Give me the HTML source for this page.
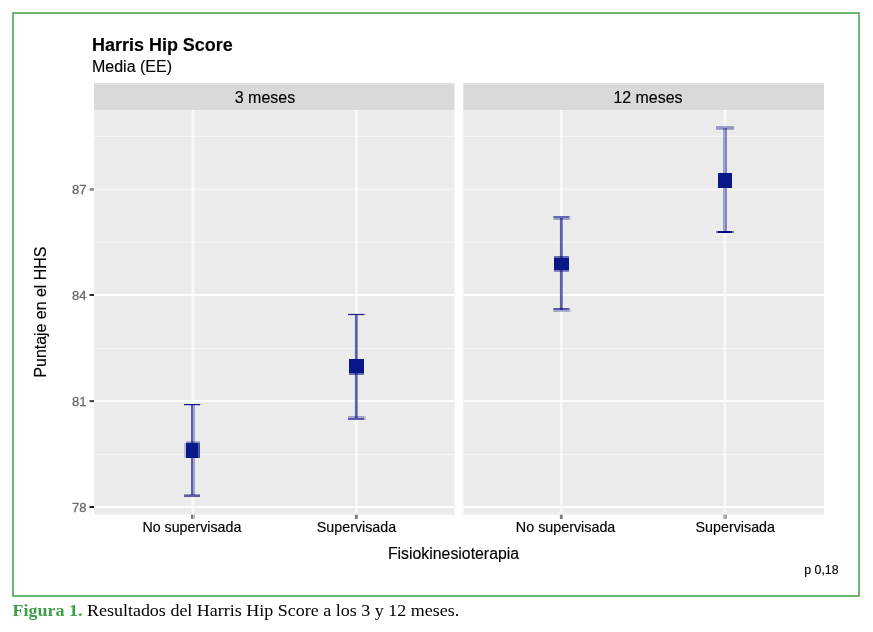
<!DOCTYPE html>
<html lang="es">
<head>
<meta charset="utf-8">
<title>Figura 1. Harris Hip Score</title>
<style>
  html, body { margin: 0; padding: 0; background: #ffffff; }
  body { width: 873px; height: 632px; overflow: hidden; position: relative; }
  svg { position: absolute; left: 0; top: 0; display: block; }
  text { font-family: "Liberation Sans", sans-serif; fill: #000; }
  .sans text { stroke: #000; stroke-width: 0.15px; }
  .serif { font-family: "Liberation Serif", serif; }
</style>
</head>
<body>
<svg width="873" height="632" viewBox="0 0 873 632">
  <rect x="0" y="0" width="873" height="632" fill="#ffffff"/>
  <!-- figure frame -->
  <rect x="13" y="13" width="846" height="583" fill="none" stroke="#6cb871" stroke-width="2"/>

  <!-- strips -->
  <rect x="94" y="83" width="360.5" height="27" fill="#d9d9d9"/>
  <rect x="463.3" y="83" width="360.7" height="27" fill="#d9d9d9"/>
  <rect x="94" y="83" width="360.5" height="2" fill="#e0e0e0"/>
  <rect x="463.3" y="83" width="360.7" height="2" fill="#e0e0e0"/>

  <!-- panels -->
  <rect x="94" y="110" width="360.5" height="404.7" fill="#ebebeb"/>
  <rect x="463.3" y="110" width="360.7" height="404.7" fill="#ebebeb"/>

  <rect x="94" y="513.2" width="360.5" height="1.5" fill="#f0f0f0"/>
  <rect x="463.3" y="513.2" width="360.7" height="1.5" fill="#f0f0f0"/>

  <!-- gridlines -->
  <g fill="#ffffff">
    <!-- minor horizontal -->
    <g fill-opacity="0.5">
      <rect x="94" y="135.8" width="360.5" height="1.2"/><rect x="463.3" y="135.8" width="360.7" height="1.2"/>
      <rect x="94" y="241.8" width="360.5" height="1.2"/><rect x="463.3" y="241.8" width="360.7" height="1.2"/>
      <rect x="94" y="347.9" width="360.5" height="1.2"/><rect x="463.3" y="347.9" width="360.7" height="1.2"/>
      <rect x="94" y="453.9" width="360.5" height="1.2"/><rect x="463.3" y="453.9" width="360.7" height="1.2"/>
    </g>
    <!-- major vertical -->
    <g fill-opacity="0.66">
      <rect x="191.5" y="110" width="2.9" height="404.7"/>
      <rect x="354.8" y="110" width="2.9" height="404.7"/>
      <rect x="559.8" y="110" width="2.9" height="404.7"/>
      <rect x="723.5" y="110" width="2.9" height="404.7"/>
    </g>
    <!-- major horizontal -->
    <g fill-opacity="0.38"><rect x="94" y="188" width="360.5" height="3"/><rect x="463.3" y="188" width="360.7" height="3"/></g>
    <g><rect x="94" y="294" width="360.5" height="2"/><rect x="463.3" y="294" width="360.7" height="2"/></g>
    <g fill-opacity="0.8"><rect x="94" y="400" width="360.5" height="2"/><rect x="463.3" y="400" width="360.7" height="2"/></g>
    <g><rect x="94" y="506" width="360.5" height="2"/><rect x="463.3" y="506" width="360.7" height="2"/></g>
  </g>

  <!-- error bars -->
  <g fill="#000080">
    <!-- 3 meses / No supervisada -->
    <rect x="191" y="405" width="2" height="90" fill-opacity="0.62"/>
    <rect x="193" y="405" width="2" height="90" fill-opacity="0.33"/>
    <rect x="184" y="404" width="16" height="1.2" fill-opacity="0.92"/>
    <rect x="200" y="404" width="2" height="1" fill-opacity="0.15"/>
    <rect x="184" y="494.4" width="16" height="2.6" fill-opacity="0.62"/>
    <!-- 3 meses / Supervisada -->
    <rect x="354.9" y="315" width="2.8" height="103" fill-opacity="0.62"/>
    <rect x="348" y="313.9" width="16.2" height="1.2" fill-opacity="0.88"/>
    <rect x="364.2" y="314" width="1.8" height="1" fill-opacity="0.2"/>
    <rect x="348" y="416" width="16.2" height="2" fill-opacity="0.3"/>
    <rect x="348" y="418" width="16.2" height="2" fill-opacity="0.62"/>
    <rect x="364.2" y="416" width="1.8" height="4" fill-opacity="0.15"/>
    <!-- 12 meses / No supervisada -->
    <rect x="559.9" y="218" width="2.8" height="92" fill-opacity="0.62"/>
    <rect x="553.3" y="216" width="16" height="2" fill-opacity="0.56"/>
    <rect x="553.3" y="218" width="16" height="2" fill-opacity="0.33"/>
    <rect x="569.3" y="216" width="1.7" height="4" fill-opacity="0.15"/>
    <rect x="553.3" y="308" width="16" height="2" fill-opacity="0.62"/>
    <rect x="553.3" y="310" width="16" height="2" fill-opacity="0.28"/>
    <rect x="569.3" y="308" width="1.7" height="4" fill-opacity="0.15"/>
    <!-- 12 meses / Supervisada -->
    <rect x="723" y="128" width="2" height="105" fill-opacity="0.34"/>
    <rect x="725" y="128" width="2" height="105" fill-opacity="0.46"/>
    <rect x="716" y="126.1" width="18" height="3.7" fill-opacity="0.36"/>
    <rect x="718" y="231" width="14" height="2" fill-opacity="0.97"/>
    <rect x="716" y="231" width="2" height="2" fill-opacity="0.5"/>
    <rect x="732" y="231" width="2" height="2" fill-opacity="0.5"/>
  </g>
  <!-- points -->
  <g fill="#0a1789">
    <rect x="184" y="443" width="2" height="15" fill-opacity="0.22"/>
    <rect x="186" y="441.3" width="14" height="1.7" fill-opacity="0.4"/>
    <rect x="186" y="443" width="12.2" height="15"/>
    <rect x="198.2" y="443" width="1.8" height="15" fill-opacity="0.75"/>

    <rect x="349" y="359" width="15" height="14"/>
    <rect x="349" y="373" width="15" height="2" fill-opacity="0.6"/>

    <rect x="554" y="256" width="15" height="2" fill-opacity="0.6"/>
    <rect x="554" y="258" width="15" height="12"/>
    <rect x="554" y="270" width="15" height="1.8" fill-opacity="0.55"/>

    <rect x="718" y="173" width="14" height="15"/>
  </g>

  <!-- axis ticks -->
  <g fill="#1f1f1f">
    <rect x="89.5" y="188.1" width="4.5" height="2.6" fill-opacity="0.5"/>
    <rect x="89.5" y="294" width="4.5" height="2" fill-opacity="0.95"/>
    <rect x="89.5" y="400" width="4.5" height="2" fill-opacity="0.8"/>
    <rect x="89.5" y="402" width="4.5" height="1" fill-opacity="0.15"/>
    <rect x="89.5" y="506" width="4.5" height="2" fill-opacity="1"/>

    <rect x="191" y="514.7" width="2" height="4.2" fill-opacity="0.6"/>
    <rect x="193" y="514.7" width="2" height="4.2" fill-opacity="0.3"/>
    <rect x="354.9" y="514.7" width="2.8" height="4.2" fill-opacity="0.6"/>
    <rect x="559.9" y="514.7" width="2.8" height="4.2" fill-opacity="0.6"/>
    <rect x="723" y="514.7" width="2" height="4.2" fill-opacity="0.32"/>
    <rect x="725" y="514.7" width="2" height="4.2" fill-opacity="0.42"/>
  </g>

  <!-- y tick labels -->
  <g font-size="13" text-anchor="end" style="fill:#6a6a6a;stroke:#6a6a6a;stroke-width:0.3px">
    <text x="86.4" y="194.2" style="fill:#6a6a6a">87</text>
    <text x="86.4" y="300.2" style="fill:#6a6a6a">84</text>
    <text x="86.4" y="406.2" style="fill:#6a6a6a">81</text>
    <text x="86.4" y="512.1" style="fill:#6a6a6a">78</text>
  </g>

  <g class="sans">
    <!-- titles -->
    <text x="92" y="50.8" font-size="18" font-weight="bold" textLength="140.8" lengthAdjust="spacingAndGlyphs">Harris Hip Score</text>
    <text x="92" y="71.8" font-size="16" textLength="80" lengthAdjust="spacingAndGlyphs">Media (EE)</text>

    <!-- strip labels -->
    <text x="265" y="102.5" font-size="15.6" text-anchor="middle" textLength="60.5" lengthAdjust="spacingAndGlyphs">3 meses</text>
    <text x="648" y="102.5" font-size="15.6" text-anchor="middle" textLength="69.2" lengthAdjust="spacingAndGlyphs">12 meses</text>

    <!-- x tick labels -->
    <text x="191.9" y="531.7" font-size="14.3" text-anchor="middle" textLength="99" lengthAdjust="spacingAndGlyphs">No supervisada</text>
    <text x="356.5" y="531.7" font-size="14.3" text-anchor="middle" textLength="79.4" lengthAdjust="spacingAndGlyphs">Supervisada</text>
    <text x="565.6" y="531.7" font-size="14.3" text-anchor="middle" textLength="99.5" lengthAdjust="spacingAndGlyphs">No supervisada</text>
    <text x="735.3" y="531.7" font-size="14.3" text-anchor="middle" textLength="79.4" lengthAdjust="spacingAndGlyphs">Supervisada</text>

    <!-- axis titles -->
    <text x="453.5" y="558.7" font-size="16" text-anchor="middle" textLength="131.2" lengthAdjust="spacingAndGlyphs">Fisiokinesioterapia</text>
    <text transform="translate(45.6 312.1) rotate(-90)" font-size="16" text-anchor="middle" textLength="131" lengthAdjust="spacingAndGlyphs">Puntaje en el HHS</text>

    <!-- plot caption -->
    <text x="838.5" y="573.7" font-size="11.9" text-anchor="end" textLength="34.2" lengthAdjust="spacingAndGlyphs">p 0,18</text>
  </g>

  <!-- figure caption -->
  <g class="serif" font-size="16.9">
    <text class="serif" x="12.4" y="615.7" font-weight="bold" textLength="70" lengthAdjust="spacingAndGlyphs" style="fill:#3a9f47">Figura 1.</text>
    <text class="serif" x="86.9" y="615.7" textLength="372.4" lengthAdjust="spacingAndGlyphs">Resultados del Harris Hip Score a los 3 y 12 meses.</text>
  </g>
</svg>
</body>
</html>
